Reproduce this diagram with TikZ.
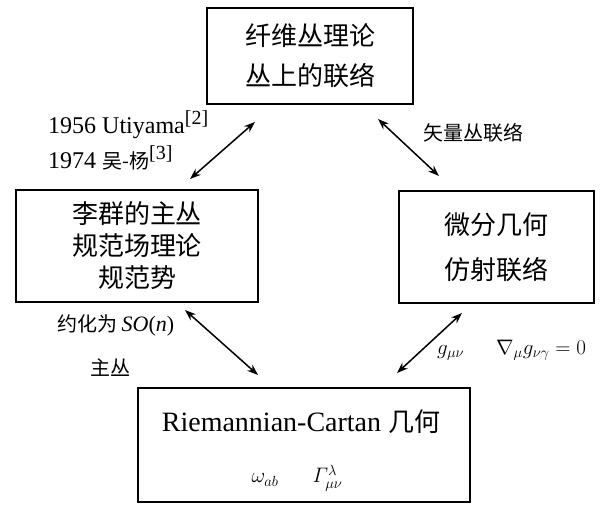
\RequirePackage{fix-cm}
\documentclass[tikz,border=0pt]{standalone}
\usepackage{amsmath}
\usepackage{fontspec}
\setmainfont{Liberation Serif}
\newfontfamily\cjk{Noto Sans CJK SC}
\usetikzlibrary{arrows.meta}
\begin{document}
\begin{tikzpicture}[x=1pt,y=-1pt,
  box/.style={draw,line width=2pt,inner sep=0pt,align=center,
    font=\fontsize{26}{40}\selectfont\cjk},
  conn/.style={line width=1.5pt,{Stealth[length=11pt,width=8pt]}-{Stealth[length=11pt,width=8pt]}},
  lbl/.style={anchor=west,inner sep=0pt},
  lat/.style={font=\fontsize{24}{24}\selectfont},
  zh/.style={font=\fontsize{20}{20}\selectfont\cjk}]
\path[use as bounding box] (0,0) rectangle (606,505);
% boxes
\node[box,minimum width=206pt,minimum height=96pt] (top) at (310,56)
  {纤维丛理论\\丛上的联络};
\node[box,minimum width=242pt,minimum height=112pt,
  font=\fontsize{26}{32}\selectfont\cjk] (left) at (137,246)
  {李群的主丛\\规范场理论\\规范势};
\node[box,minimum width=195pt,minimum height=112pt,
  font=\fontsize{26}{45}\selectfont\cjk] (right) at (496.5,247)
  {微分几何\\仿射联络};
\node[box,minimum width=332pt,minimum height=114pt] (bot) at (304,445) {};
\node[inner sep=0pt,font=\fontsize{28}{30}\selectfont] (bt1) at (301,422)
  {Riemannian-Cartan {\fontsize{26}{30}\selectfont\cjk 几何}};
\node[inner sep=0pt,font=\fontsize{21}{21}\selectfont] (bt2) at (297,478)
  {$\omega_{ab}\hspace{34pt}\varGamma^{\lambda}_{\mu\nu}$};
% connector end points
\coordinate (t1) at (255,122);
\coordinate (l1) at (190,179);
\coordinate (t2) at (378,119);
\coordinate (r2) at (439,176);
\coordinate (l3) at (185,310);
\coordinate (b3) at (258,375);
\coordinate (r4) at (462,313);
\coordinate (b4) at (397,373);
\draw[conn] (t1) -- (l1);
\draw[conn] (t2) -- (r2);
\draw[conn] (l3) -- (b3);
\draw[conn] (r4) -- (b4);
% labels
\node[lbl,lat] (u1) at (48,125) {1956 Utiyama\textsuperscript{\fontsize{20}{20}\selectfont[2]}};
\node[lbl,lat] (u2) at (48,158) {1974 {\fontsize{20}{20}\selectfont\cjk 吴-杨}\textsuperscript{\fontsize{20}{20}\selectfont[3]}};
\node[lbl,zh] (vb) at (423,133) {矢量丛联络};
\node[lbl,zh] (so) at (57,325) {约化为 {\fontsize{22}{22}\selectfont\rmfamily\textit{SO}(\textit{n})}};
\node[lbl,zh] (zc) at (90,368) {主丛};
\node[lbl,font=\fontsize{21}{21}\selectfont] (gm) at (437,350)
  {$g_{\mu\nu}\hspace{32pt}\nabla_{\mu}g_{\nu\gamma}=0$};
\end{tikzpicture}
\end{document}
